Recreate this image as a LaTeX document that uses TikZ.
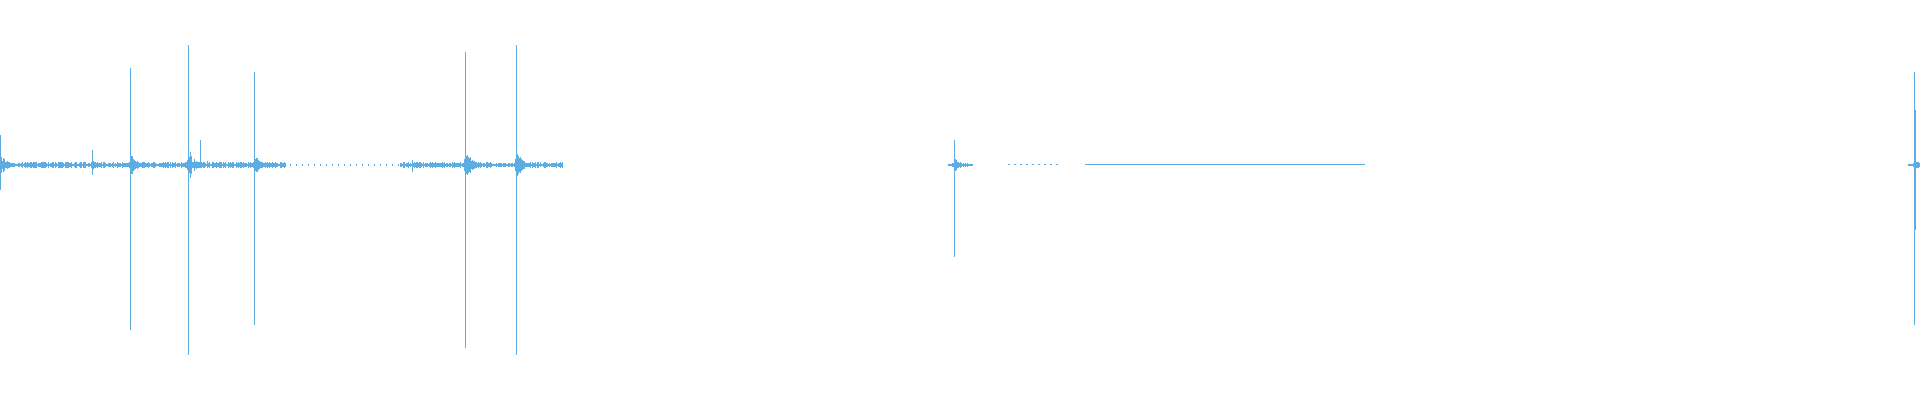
\documentclass[tikz,border=0pt]{standalone}
\definecolor{wave}{HTML}{5DADE2}
\begin{document}
\begin{tikzpicture}[x=0.5pt,y=-0.5pt,wv/.style={draw=wave,line width=0.5pt}]
\useasboundingbox (0,0) rectangle (1920,400);
\pgfmathsetseed{7}
% low noise regions
\foreach \x in {0,1,...,285}{\pgfmathsetmacro\a{1+2.5*rnd}\draw[wv] (\x,165-\a)--(\x,165+\a);}
\foreach \x in {290,296,...,400}{\pgfmathsetmacro\a{0.5+1*rnd}\draw[wv] (\x,165-\a)--(\x,165+\a);}
\foreach \x in {400,401,...,562}{\pgfmathsetmacro\a{1+2*rnd}\draw[wv] (\x,165-\a)--(\x,165+\a);}
\foreach \x in {1008,1014,...,1060}{\draw[wv] (\x,164.5)--(\x+2,164.5);}
\draw[wv] (1085,164.5)--(1365,164.5);
% spikes with decaying tails: position, up, down
\foreach \s/\u/\d/\t in {0/30/25/12,92/15/10/4,130/97/165/14,188/120/190/18,254/93/160/14,465/113/183/20,516/120/190/16,954/25/92/8,1914/93/160/5}{
  \draw[wv] (\s,165-\u)--(\s,165+\d);
  \foreach \k in {1,...,18}{
    \pgfmathsetmacro\a{\t*exp(-\k/5)*(0.3+0.7*rnd)+1}
    \draw[wv] (\s+\k,165-\a)--(\s+\k,165+\a);
    \pgfmathsetmacro\b{\t*0.5*exp(-\k/2)*(0.3+0.7*rnd)+1}
    \draw[wv] (\s-\k*0.3,165-\b)--(\s-\k*0.3,165+\b);
  }
}
% secondary peaks
\draw[wv] (516.8,118)--(516.8,280);
\draw[wv] (1915.5,110)--(1915.5,230);
\draw[wv] (200,167)--(200,140);
\draw[wv] (412,160)--(412,172);
\end{tikzpicture}
\end{document}
